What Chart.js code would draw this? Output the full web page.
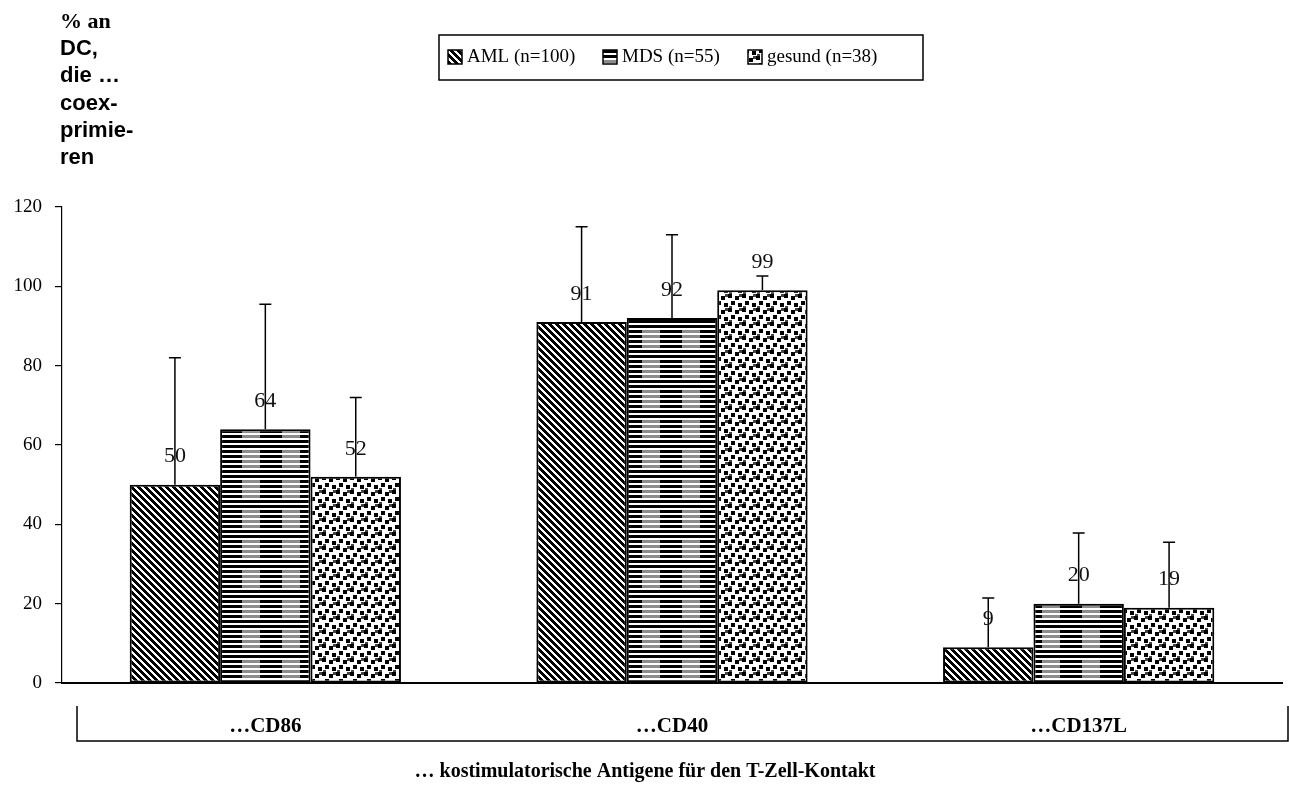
<!DOCTYPE html>
<html lang="de">
<head>
<meta charset="UTF-8">
<title>Kostimulatorische Antigene</title>
<script src="https://cdn.jsdelivr.net/npm/chart.js"></script>
<style>
  body { margin: 0; background: #fff; }
  #chart { display: block; }
</style>
</head>
<body>
<canvas id="chart" width="1289" height="787"></canvas>
<script>
// Werte
const categories = ['…CD86', '…CD40', '…CD137L'];
const seriesNames = ['AML (n=100)', 'MDS (n=55)', 'gesund (n=38)'];
const amlValues = [50, 91, 9];
const mdsValues = [64, 92, 20];
const gesundValues = [52, 99, 19];
// Standardabweichung (nur nach oben gezeichnet)
const amlSD = [32, 24, 12.4];
const mdsSD = [31.5, 21, 17.8];
const gesundSD = [20, 3.6, 16.5];
const yMin = 0, yMax = 120, yStep = 20;
const yTitleLines = ['% an', 'DC,', 'die …', 'coex-', 'primie-', 'ren'];
const xTitle = '… kostimulatorische Antigene für den T-Zell-Kontakt';

const SERIF = '"Liberation Serif", "Times New Roman", serif';
const SANS = '"Liberation Sans", Arial, sans-serif';

// Schraffuren wie im Original (schwarz/weiss)
function makeTile(w, h, paint) {
    const c = document.createElement('canvas');
    c.width = w; c.height = h;
    const g = c.getContext('2d');
    g.fillStyle = '#fff';
    g.fillRect(0, 0, w, h);
    paint(g);
    return c;
}

const ctx = document.getElementById('chart').getContext('2d');

const amlTile = makeTile(7, 7, g => {
    g.fillStyle = '#000';
    for (let y = 0; y < 7; y++)
        for (let x = 0; x < 7; x++)
            if ((x - y + 7) % 7 < 4) g.fillRect(x, y, 1, 1);
});
const mdsTile = makeTile(40, 30, g => {
    for (let y = 0; y < 30; y++) {
        if (y % 5 >= 3) continue;
        for (let x = 0; x < 40; x++) {
            g.fillStyle = (x >= 2 && x < 20 && y < 20) ? '#8c8c8c' : '#000';
            g.fillRect(x, y, 1, 1);
        }
    }
});
const gesundTile = makeTile(14, 14, g => {
    g.fillStyle = '#000';
    g.fillRect(0, 0, 4, 4);
    g.fillRect(7, 2, 4, 4);
    g.fillRect(3, 7, 4, 4);
    g.fillRect(10, 9, 4, 4);
    g.fillStyle = '#444';
    g.fillRect(1, 12, 3, 2);
    g.fillRect(11, 0, 3, 3);
});

const patterns = [
    ctx.createPattern(amlTile, 'repeat'),
    ctx.createPattern(mdsTile, 'repeat'),
    ctx.createPattern(gesundTile, 'repeat')
];

const decorations = {
    id: 'decorations',
    afterDatasetsDraw(chart) {
        const c = chart.ctx;
        const yScale = chart.scales.y;
        c.save();
        chart.data.datasets.forEach((ds, i) => {
            const meta = chart.getDatasetMeta(i);
            meta.data.forEach((bar, j) => {
                // Fehlerbalken
                const top = yScale.getPixelForValue(ds.data[j] + ds.sd[j]);
                c.strokeStyle = '#000';
                c.lineWidth = 1.5;
                c.beginPath();
                c.moveTo(bar.x, bar.y);
                c.lineTo(bar.x, top);
                c.moveTo(bar.x - 6, top);
                c.lineTo(bar.x + 6, top);
                c.stroke();
            });
        });
        // Werte ueber den Balken
        chart.data.datasets.forEach((ds, i) => {
            const meta = chart.getDatasetMeta(i);
            meta.data.forEach((bar, j) => {
                c.fillStyle = '#111';
                c.font = '22px ' + SERIF;
                c.textAlign = 'center';
                c.textBaseline = 'middle';
                c.fillText(String(ds.data[j]), bar.x, bar.y - 28);
            });
        });
        c.restore();
    },
    afterDraw(chart) {
        const c = chart.ctx;
        c.save();
        c.fillStyle = '#000';
        c.strokeStyle = '#000';

        // Legende mit Rahmen
        c.lineWidth = 1.5;
        c.strokeRect(439, 35, 484, 45);
        const itemX = [448, 603, 748];
        c.font = '19px ' + SERIF;
        c.textAlign = 'left';
        c.textBaseline = 'middle';
        seriesNames.forEach((name, i) => {
            c.fillStyle = patterns[i];
            c.fillRect(itemX[i], 50, 14, 14);
            c.lineWidth = 1.5;
            c.strokeRect(itemX[i], 50, 14, 14);
            c.fillStyle = '#000';
            c.fillText(name, itemX[i] + 19, 57);
        });

        // Achsentitel y
        c.textAlign = 'left';
        yTitleLines.forEach((line, i) => {
            c.font = (i === 0 ? 'bold 22px ' + SERIF : 'bold 22px ' + SANS);
            c.fillText(line, 60, 22 + i * 27.2);
        });

        // Klammer unter den Kategorien
        c.lineWidth = 1.5;
        c.beginPath();
        c.moveTo(77, 706);
        c.lineTo(77, 741);
        c.lineTo(1288, 741);
        c.lineTo(1288, 706);
        c.stroke();

        // Achsentitel x
        c.font = 'bold 20px ' + SERIF;
        c.textAlign = 'center';
        c.fillText(xTitle, 645, 772);
        c.restore();
    }
};

new Chart(ctx, {
    type: 'bar',
    data: {
        labels: categories,
        datasets: [
            { label: seriesNames[0], data: amlValues, sd: amlSD, backgroundColor: patterns[0] },
            { label: seriesNames[1], data: mdsValues, sd: mdsSD, backgroundColor: patterns[1] },
            { label: seriesNames[2], data: gesundValues, sd: gesundSD, backgroundColor: patterns[2] }
        ].map(ds => Object.assign(ds, {
            borderColor: '#000',
            borderWidth: 2,
            borderSkipped: false,
            categoryPercentage: 0.667,
            barPercentage: 1.0
        }))
    },
    options: {
        responsive: false,
        animation: false,
        layout: { padding: { top: 207, right: 7, left: 0, bottom: 0 } },
        plugins: {
            legend: { display: false },
            title: { display: false },
            tooltip: { enabled: false }
        },
        scales: {
            x: {
                grid: { display: false },
                border: { display: true, color: '#000', width: 2 },
                ticks: {
                    color: '#000',
                    font: { family: SERIF, size: 21, weight: 'bold' },
                    padding: 23,
                    maxRotation: 0
                },
                afterFit(scale) { scale.height = 104; }
            },
            y: {
                min: yMin,
                max: yMax,
                grid: { display: true, drawOnChartArea: false, tickLength: 7, color: '#000', lineWidth: 1.2 },
                border: { display: true, color: '#000', width: 1.2 },
                ticks: {
                    stepSize: yStep,
                    color: '#000',
                    font: { family: SERIF, size: 19 },
                    padding: 13
                },
                afterFit(scale) { scale.width = 62; }
            }
        }
    },
    plugins: [decorations]
});
</script>
</body>
</html>
